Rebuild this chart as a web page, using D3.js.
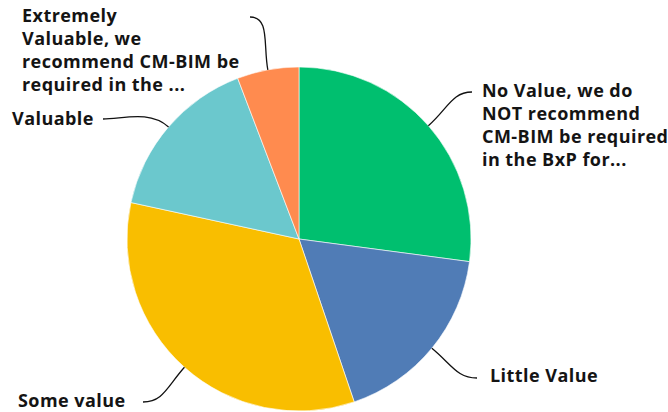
<!DOCTYPE html>
<html><head><meta charset="utf-8">
<script src="https://cdn.jsdelivr.net/npm/d3@7"></script>
<style>html,body{margin:0;padding:0;background:#fff;overflow:hidden}</style>
</head><body>
<svg id="chart" width="668" height="412"></svg>
<script>
const categories = [
  "No Value, we do NOT recommend CM-BIM be required in the BxP for...",
  "Little Value",
  "Some value",
  "Valuable",
  "Extremely Valuable, we recommend CM-BIM be required in the ..."
];
const labelLines = [
  ["No Value, we do", "NOT recommend", "CM-BIM be required", "in the BxP for..."],
  ["Little Value"],
  ["Some value"],
  ["Valuable"],
  ["Extremely", "Valuable, we", "recommend CM-BIM be", "required in the ..."]
];
const values = [27.1, 17.7, 33.6, 15.8, 5.8];
const colors = ["#00bf6f", "#507cb6", "#f9be00", "#6bc8cd", "#ff8b4f"];

// layout (label anchor: x, first baseline y, side, leader end)
const labelLayout = [
  {x: 482, y: 97, side: 1, ex: 472, ey: 92},
  {x: 490, y: 382, side: 1, ex: 477, ey: 378},
  {x: 18, y: 407, side: -1, ex: 143, ey: 402},
  {x: 12, y: 125, side: -1, ex: 103, ey: 119},
  {x: 22, y: 22, side: -1, ex: 250, ey: 17}
];

const svg = d3.select("#chart");
const cx = 299, cy = 239, R = 172;
const g = svg.append("g").attr("transform", `translate(${cx},${cy})`);

const data = categories.map((c, i) => ({c, v: values[i], i}));
const pie = d3.pie().value(d => d.v).sort(null);
const arcs = pie(data);
const arc = d3.arc().innerRadius(0).outerRadius(R);

g.selectAll("path.slice").data(arcs).enter().append("path")
  .attr("class", "slice")
  .attr("d", arc)
  .attr("fill", d => colors[d.data.i])
  .attr("stroke", "#fff").attr("stroke-width", 0.6);

// leader lines
arcs.forEach(a => {
  const L = labelLayout[a.data.i];
  const m = (a.startAngle + a.endAngle) / 2;
  const sx = cx + R * Math.sin(m), sy = cy - R * Math.cos(m);
  const c1x = sx + 26 * Math.sin(m), c1y = sy - 26 * Math.cos(m);
  const c2x = L.ex - L.side * 20, c2y = L.ey;
  svg.append("path")
    .attr("d", `M${sx},${sy}C${c1x},${c1y} ${c2x},${c2y} ${L.ex},${L.ey}`)
    .attr("fill", "none").attr("stroke", "#111").attr("stroke-width", 1.3);
});

// labels
data.forEach(d => {
  const L = labelLayout[d.i];
  const t = svg.append("text")
    .attr("x", L.x).attr("y", L.y)
    .attr("font-family", "'Open Sans', sans-serif")
    .attr("font-weight", 700)
    .attr("font-size", 18)
    .attr("letter-spacing", 0.45)
    .attr("fill", "#141414");
  labelLines[d.i].forEach((ln, k) => {
    t.append("tspan").attr("x", L.x).attr("y", L.y + k * 23).text(ln);
  });
});
</script>
</body></html>
